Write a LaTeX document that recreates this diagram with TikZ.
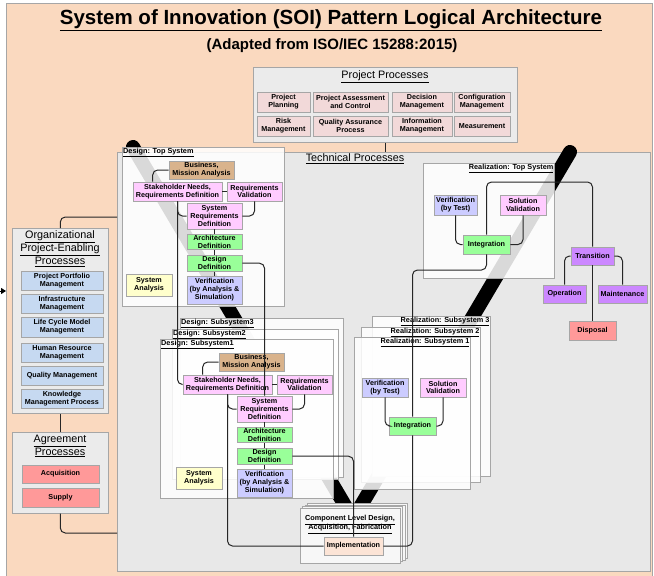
\documentclass[tikz,border=0pt]{standalone}
\usepackage{fontspec}
\setmainfont{Liberation Sans}
\usetikzlibrary{arrows.meta,positioning}

\definecolor{peach}{HTML}{FAD9BF}
\definecolor{techgray}{HTML}{E8E8E8}
\definecolor{panelgray}{HTML}{EBEBEB}
\definecolor{edgegray}{HTML}{A6A6A6}
\definecolor{projpink}{HTML}{F2D9D9}
\definecolor{orgblue}{HTML}{C6D9F1}
\definecolor{bizbrown}{HTML}{D9B38C}
\definecolor{reqpink}{HTML}{FFCCFF}
\definecolor{defgreen}{HTML}{99FF99}
\definecolor{verblue}{HTML}{CCCCFF}
\definecolor{anayellow}{HTML}{FFFFCC}
\definecolor{transpurple}{HTML}{CC88FF}
\definecolor{dispred}{HTML}{FF9999}
\definecolor{implpeach}{HTML}{FCE4D6}

\begin{document}
\begin{tikzpicture}[x=1pt, y=-1pt,
  proc/.style={draw=edgegray, line width=0.6pt, inner sep=0pt, align=center,
               font=\fontsize{7.2}{7.8}\selectfont\bfseries},
  panel/.style={draw=edgegray, fill=panelgray, line width=0.6pt, inner sep=0pt,
                anchor=north west},
  stage/.style={draw=edgegray, fill=white, fill opacity=0.85, line width=0.6pt,
                inner sep=0pt, anchor=north west},
  head/.style={font=\fontsize{10.8}{13}\selectfont, align=center, inner sep=0pt},
  stagelabel/.style={font=\fontsize{7.3}{9}\selectfont\bfseries, align=center,
                     inner sep=1pt},
  conn/.style={line width=1pt, black!85, rounded corners=5pt},
  vshape/.style={line width=14pt, line cap=round, line join=round},
  inarrow/.style={-{Triangle[length=5pt,width=6pt]}, line width=1pt}
]
  \useasboundingbox (0,0) rectangle (654,576);

  % background and title
  \node[draw=edgegray, fill=peach, inner sep=0pt, anchor=north west,
        minimum width=646, minimum height=573] (bg) at (6,3) {};
  \node[font=\fontsize{20.5}{24}\selectfont\bfseries] (title) at (331,20)
    {\underline{System of Innovation (SOI) Pattern Logical Architecture}};
  \node[font=\fontsize{15}{17}\selectfont\bfseries] (subtitle) at (332,46)
    {(Adapted from ISO/IEC 15288:2015)};

  % project processes
  \node[panel, minimum width=264, minimum height=75] (proj) at (253,67) {};
  \node[head] (projhead) at (385,77) {\underline{Project Processes}};
  \node[proc, fill=projpink, minimum width=53, minimum height=20] (pplan) at (283.5,102) {Project\\Planning};
  \node[proc, fill=projpink, minimum width=75, minimum height=20] (passess) at (350.5,102) {Project Assessment\\and Control};
  \node[proc, fill=projpink, minimum width=60, minimum height=20] (pdec) at (422,102) {Decision\\Management};
  \node[proc, fill=projpink, minimum width=56, minimum height=20] (pconf) at (482,102) {Configuration\\Management};
  \node[proc, fill=projpink, minimum width=53, minimum height=20] (prisk) at (283.5,126) {Risk\\Management};
  \node[proc, fill=projpink, minimum width=75, minimum height=20] (pqa) at (350.5,126) {Quality Assurance\\Process};
  \node[proc, fill=projpink, minimum width=60, minimum height=20] (pinfo) at (422,126) {Information\\Management};
  \node[proc, fill=projpink, minimum width=56, minimum height=20] (pmeas) at (482,126) {Measurement};

  % technical processes
  \node[fill=techgray, draw=edgegray, line width=0.6pt, inner sep=0pt, anchor=north west,
        minimum width=533, minimum height=419] (tech) at (117,152) {};
  \node[head] (techhead) at (355,159) {\underline{Technical Processes}};

  % the V
  \coordinate (vleft) at (133,147);
  \coordinate (vbottom) at (353,519);
  \coordinate (vright) at (570,152);
  \draw[vshape] (vleft) -- (vbottom) -- (vright);

  % design: top system
  \node[stage, minimum width=162, minimum height=159] (dtop) at (122,147) {};
  \node[stagelabel, anchor=north west] (dtoplabel) at (dtop.north west) {\underline{Design: Top System}};
  \node[proc, fill=bizbrown, minimum width=65, minimum height=18] (tbus) at (201.5,170) {Business,\\Mission Analysis};
  \node[proc, fill=reqpink, minimum width=89, minimum height=19] (tstake) at (177.5,191.5) {Stakeholder Needs,\\Requirements Definition};
  \node[proc, fill=reqpink, minimum width=55, minimum height=19] (treqv) at (254.5,191.5) {Requirements\\Validation};
  \node[proc, fill=reqpink, minimum width=55, minimum height=26] (tsysreq) at (214.5,216) {System\\Requirements\\Definition};
  \node[proc, fill=defgreen, minimum width=55, minimum height=15, below=5pt of tsysreq] (tarch) {Architecture\\Definition};
  \node[proc, fill=defgreen, minimum width=55, minimum height=16, below=5pt of tarch] (tdes) {Design\\Definition};
  \node[proc, fill=verblue, minimum width=55, minimum height=28, below=4pt of tdes] (tverif) {Verification\\(by Analysis \&\\Simulation)};
  \node[proc, fill=anayellow, minimum width=46, minimum height=22] (tsa) at (149,285) {System\\Analysis};

  % design: subsystems
  \node[stage, minimum width=163, minimum height=159] (dsub3) at (180,318) {};
  \node[stagelabel, anchor=north west] (dsub3label) at (dsub3.north west) {\underline{Design: Subsystem3}};
  \node[stage, minimum width=166, minimum height=150] (dsub2) at (172,329) {};
  \node[stagelabel, anchor=north west] (dsub2label) at (dsub2.north west) {\underline{Design: Subsystem2}};
  \node[stage, minimum width=173, minimum height=159] (dsub1) at (160,339) {};
  \node[stagelabel, anchor=north west] (dsub1label) at (dsub1.north west) {\underline{Design: Subsystem1}};
  \node[proc, fill=bizbrown, minimum width=65, minimum height=18] (sbus) at (251.5,362) {Business,\\Mission Analysis};
  \node[proc, fill=reqpink, minimum width=89, minimum height=19] (sstake) at (227.5,384.5) {Stakeholder Needs,\\Requirements Definition};
  \node[proc, fill=reqpink, minimum width=55, minimum height=19] (sreqv) at (304.5,384.5) {Requirements\\Validation};
  \node[proc, fill=reqpink, minimum width=55, minimum height=26] (ssysreq) at (264.5,409) {System\\Requirements\\Definition};
  \node[proc, fill=defgreen, minimum width=55, minimum height=15, below=5pt of ssysreq] (sarch) {Architecture\\Definition};
  \node[proc, fill=defgreen, minimum width=55, minimum height=16, below=5pt of sarch] (sdes) {Design\\Definition};
  \node[proc, fill=verblue, minimum width=55, minimum height=28, below=4pt of sdes] (sverif) {Verification\\(by Analysis \&\\Simulation)};
  \node[proc, fill=anayellow, minimum width=46, minimum height=22] (ssa) at (199,478) {System\\Analysis};

  % realization: top system
  \node[stage, minimum width=131, minimum height=115] (rtop) at (423,163) {};
  \node[stagelabel, anchor=north east] (rtoplabel) at (rtop.north east) {\underline{Realization: Top System}};
  \node[proc, fill=verblue, minimum width=43, minimum height=20] (rtver) at (455.5,205) {Verification\\(by Test)};
  \node[proc, fill=reqpink, minimum width=46, minimum height=20] (rtsol) at (523,205) {Solution\\Validation};
  \node[proc, fill=defgreen, minimum width=47, minimum height=19] (rtint) at (486.5,244.5) {Integration};

  % realization: subsystems
  \node[stage, minimum width=118, minimum height=160] (rsub3) at (372,316) {};
  \node[stagelabel, anchor=north east] (rsub3label) at (rsub3.north east) {\underline{Realization: Subsystem 3}};
  \node[stage, minimum width=119, minimum height=155] (rsub2) at (361,327) {};
  \node[stagelabel, anchor=north east] (rsub2label) at (rsub2.north east) {\underline{Realization: Subsystem 2}};
  \node[stage, minimum width=116, minimum height=152] (rsub1) at (354,337) {};
  \node[stagelabel, anchor=north east] (rsub1label) at (rsub1.north east) {\underline{Realization: Subsystem 1}};
  \node[proc, fill=verblue, minimum width=46, minimum height=19] (rsver) at (385,387.5) {Verification\\(by Test)};
  \node[proc, fill=reqpink, minimum width=46, minimum height=19] (rssol) at (443,387.5) {Solution\\Validation};
  \node[proc, fill=defgreen, minimum width=47, minimum height=18] (rsint) at (412.5,426) {Integration};

  % transition and after
  \node[proc, fill=transpurple, minimum width=43, minimum height=18] (trans) at (592.5,256) {Transition};
  \node[proc, fill=transpurple, minimum width=43, minimum height=18] (oper) at (564.5,294) {Operation};
  \node[proc, fill=transpurple, minimum width=49, minimum height=18] (maint) at (622.5,294) {Maintenance};
  \node[proc, fill=dispred, minimum width=47, minimum height=19] (disp) at (592.5,330.5) {Disposal};

  % component level
  \node[stage, fill opacity=1, fill=white!97!black, minimum width=100, minimum height=55] (comp3) at (307,503) {};
  \node[stage, fill opacity=1, fill=white!97!black, minimum width=100, minimum height=55] (comp2) at (304.7,504.7) {};
  \node[stage, fill opacity=1, fill=white!97!black, minimum width=100, minimum height=55] (comp1) at (302.3,506.3) {};
  \node[stage, fill opacity=1, fill=white!97!black, minimum width=100, minimum height=55] (comp) at (300,508) {};
  \node[stagelabel] (complabel) at (350,524.5)
    {\underline{Component Level Design,}\\\underline{Acquisition, Fabrication}};
  \node[proc, fill=implpeach, minimum width=59, minimum height=18] (impl) at (353.5,546) {Implementation};

  % organizational project-enabling processes
  \node[panel, minimum width=96, minimum height=185] (org) at (12,228) {};
  \node[head] (orghead) at (60,249)
    {\underline{Organizational}\\\underline{Project-Enabling}\\\underline{Processes}};
  \node[proc, fill=orgblue, minimum width=82, minimum height=19] (oport) at (62,280.5) {Project Portfolio\\Management};
  \node[proc, fill=orgblue, minimum width=82, minimum height=19] (oinfra) at (62,303.5) {Infrastructure\\Management};
  \node[proc, fill=orgblue, minimum width=82, minimum height=20] (olife) at (62,327) {Life Cycle Model\\Management};
  \node[proc, fill=orgblue, minimum width=82, minimum height=19] (ohuman) at (62,352.5) {Human Resource\\Management};
  \node[proc, fill=orgblue, minimum width=82, minimum height=19] (oqual) at (62,375.5) {Quality Management};
  \node[proc, fill=orgblue, minimum width=82, minimum height=19] (oknow) at (62,398.5) {Knowledge\\Management Process};

  % agreement processes
  \node[panel, minimum width=96, minimum height=81] (agr) at (12,432) {};
  \node[head] (agrhead) at (60,446) {\underline{Agreement}\\\underline{Processes}};
  \node[proc, fill=dispred, minimum width=77, minimum height=18] (aacq) at (60.5,474) {Acquisition};
  \node[proc, fill=dispred, minimum width=77, minimum height=19] (asup) at (60.5,497.5) {Supply};

  % connectors: design top
  \draw[conn] (tbus.west) -| ([xshift=20pt]tstake.north west);
  \draw[conn] (tstake.east) -- (treqv.west);
  \draw[conn] (treqv.south) |- (tsysreq.east);
  \draw[conn] (tstake.south) |- (tsysreq.west);
  \draw[conn] (tstake.south) |- (sstake.west);
  \draw[conn] (tsysreq) -- (tarch) -- (tdes) -- (tverif);
  \draw[conn] (tdes.east) -| (ssysreq.north);

  % connectors: design subsystem
  \draw[conn] (sbus.west) -| ([xshift=20pt]sstake.north west);
  \draw[conn] (sstake.east) -- (sreqv.west);
  \draw[conn] (sreqv.south) |- (ssysreq.east);
  \draw[conn] (sstake.south) |- (ssysreq.west);
  \draw[conn] (sstake.south) |- (impl.west);
  \draw[conn] (ssysreq) -- (sarch) -- (sdes) -- (sverif);
  \draw[conn] (sdes.east) -| (impl.north);

  % connectors: realization
  \draw[conn] (impl.east) -| (rsint.south);
  \draw[conn] (rsver.south) |- (rsint.west);
  \draw[conn] (rssol.south) |- (rsint.east);
  \coordinate (rlink) at (450,270);
  \draw[conn] (rsint.north) |- (rlink) -| (rtint.south);
  \draw[conn] (rtver.south) |- (rtint.west);
  \draw[conn] (rtsol.south) |- (rtint.east);
  \coordinate (tlink) at (540,182);
  \draw[conn] (rtint.north) |- (tlink) -| (trans.north);
  \draw[conn] (trans.west) -| (oper.north);
  \draw[conn] (trans.east) -| (maint.north);
  \draw[conn] (trans.south) -- (disp.north);

  % connectors: outer processes
  \coordinate (orglink) at (117,217);
  \draw[conn] (org.north) |- (orglink);
  \draw[conn] (org.south) -- (agr.north);
  \coordinate (agrlink) at (117,533);
  \draw[conn] (agr.south) |- (agrlink);
  \draw[conn] (proj.south) -- (proj.south |- tech.north);
  \coordinate (ext) at (0,291);
  \draw[inarrow] (ext) -- (ext -| bg.west);
\end{tikzpicture}
\end{document}
